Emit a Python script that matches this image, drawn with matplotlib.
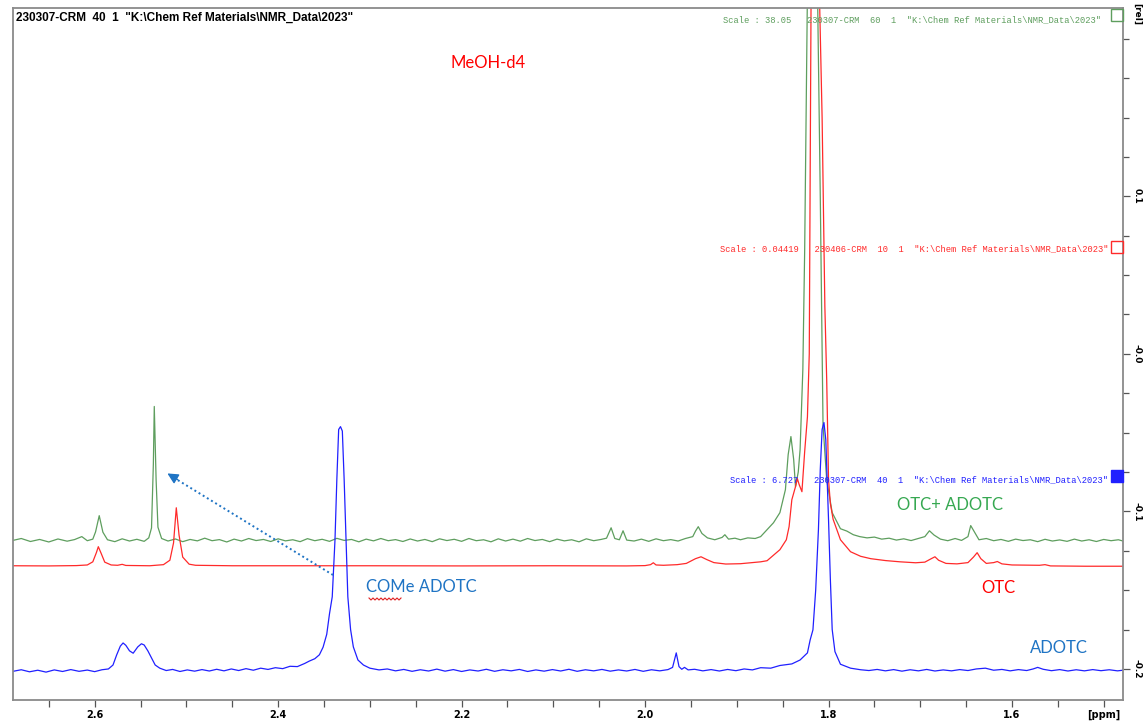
import numpy as np
import matplotlib.pyplot as plt

W, H = 1143, 724

# ---- spectra (ppm, relative intensity) ----
green_ppm = [2.689, 2.680, 2.670, 2.660, 2.650, 2.640, 2.630, 2.622, 2.614, 2.608,
             2.602, 2.599, 2.595, 2.591, 2.586, 2.578, 2.570, 2.562, 2.554, 2.546,
             2.541, 2.538, 2.536, 2.535, 2.533, 2.531, 2.527, 2.520, 2.512, 2.504,
             2.496, 2.488, 2.480, 2.472, 2.464, 2.456, 2.448, 2.440, 2.432, 2.424,
             2.416, 2.408, 2.400, 2.392, 2.384, 2.376, 2.368, 2.360, 2.352, 2.344,
             2.336, 2.328, 2.320, 2.312, 2.304, 2.296, 2.288, 2.280, 2.272, 2.264,
             2.256, 2.248, 2.240, 2.232, 2.224, 2.216, 2.208, 2.200, 2.192, 2.184,
             2.176, 2.168, 2.160, 2.152, 2.144, 2.136, 2.128, 2.120, 2.112, 2.104,
             2.096, 2.088, 2.080, 2.072, 2.064, 2.056, 2.048, 2.042, 2.037, 2.033,
             2.028, 2.024, 2.020, 2.012, 2.004, 1.996, 1.988, 1.980, 1.972, 1.964,
             1.956, 1.948, 1.945, 1.942, 1.938, 1.932, 1.924, 1.916, 1.913, 1.909,
             1.902, 1.896, 1.888, 1.880, 1.874, 1.867, 1.860, 1.853, 1.847, 1.844,
             1.841, 1.838, 1.836, 1.833, 1.831, 1.828, 1.826, 1.823, 1.818, 1.812,
             1.809, 1.806, 1.802, 1.796, 1.787, 1.780, 1.773, 1.766, 1.758, 1.750,
             1.742, 1.734, 1.726, 1.718, 1.710, 1.702, 1.695, 1.690, 1.685, 1.678,
             1.670, 1.662, 1.655, 1.648, 1.645, 1.641, 1.636, 1.628, 1.620, 1.612,
             1.604, 1.596, 1.588, 1.580, 1.572, 1.564, 1.556, 1.548, 1.540, 1.532,
             1.524, 1.516, 1.508, 1.500, 1.492, 1.484, 1.479]
green_val = [-0.1184, -0.1172, -0.1191, -0.1178, -0.1194, -0.1175, -0.1189, -0.1179, -0.1160, -0.1186,
             -0.1176, -0.1130, -0.1027, -0.1132, -0.1180, -0.1192, -0.1174, -0.1188, -0.1177, -0.1190,
             -0.1168, -0.1105, -0.0700, -0.0334, -0.0800, -0.1100, -0.1172, -0.1188, -0.1175, -0.1192,
             -0.1178, -0.1187, -0.1170, -0.1186, -0.1179, -0.1194, -0.1176, -0.1188, -0.1172, -0.1185,
             -0.1178, -0.1191, -0.1174, -0.1187, -0.1180, -0.1192, -0.1173, -0.1186, -0.1177, -0.1190,
             -0.1171, -0.1184, -0.1178, -0.1193, -0.1176, -0.1187, -0.1172, -0.1186, -0.1179, -0.1191,
             -0.1175, -0.1188, -0.1178, -0.1192, -0.1174, -0.1185, -0.1177, -0.1190, -0.1172, -0.1186,
             -0.1180, -0.1193, -0.1174, -0.1188, -0.1176, -0.1189, -0.1172, -0.1185, -0.1178, -0.1192,
             -0.1176, -0.1187, -0.1180, -0.1193, -0.1174, -0.1186, -0.1178, -0.1170, -0.1104, -0.1172,
             -0.1180, -0.1123, -0.1182, -0.1188, -0.1176, -0.1190, -0.1174, -0.1186, -0.1179, -0.1188,
             -0.1172, -0.1160, -0.1125, -0.1097, -0.1140, -0.1168, -0.1180, -0.1165, -0.1148, -0.1176,
             -0.1170, -0.1180, -0.1168, -0.1172, -0.1160, -0.1116, -0.1072, -0.1008, -0.0862, -0.0640,
             -0.0525, -0.0670, -0.0843, -0.0750, -0.0608, -0.0100, 0.0660, 0.2300, 0.3000, 0.2300,
             0.1000, -0.0450, -0.0800, -0.1008, -0.1110, -0.1125, -0.1148, -0.1160, -0.1168, -0.1163,
             -0.1176, -0.1170, -0.1182, -0.1174, -0.1185, -0.1172, -0.1160, -0.1123, -0.1150, -0.1176,
             -0.1186, -0.1172, -0.1184, -0.1160, -0.1090, -0.1130, -0.1180, -0.1172, -0.1186, -0.1178,
             -0.1190, -0.1176, -0.1185, -0.1180, -0.1192, -0.1177, -0.1188, -0.1181, -0.1190, -0.1176,
             -0.1188, -0.1180, -0.1191, -0.1178, -0.1186, -0.1180, -0.1188]

red_ppm = [2.689, 2.650, 2.620, 2.608, 2.602, 2.598, 2.596, 2.593, 2.589, 2.582,
           2.575, 2.570, 2.566, 2.540, 2.525, 2.518, 2.514, 2.511, 2.508, 2.504,
           2.497, 2.490, 2.450, 2.300, 2.200, 2.100, 2.020, 2.000, 1.994, 1.991,
           1.988, 1.980, 1.965, 1.955, 1.945, 1.939, 1.933, 1.925, 1.912, 1.896,
           1.874, 1.867, 1.853, 1.846, 1.843, 1.840, 1.836, 1.834, 1.832, 1.829,
           1.826, 1.823, 1.821, 1.819, 1.815, 1.810, 1.807, 1.804, 1.802, 1.800,
           1.798, 1.795, 1.787, 1.776, 1.765, 1.754, 1.738, 1.722, 1.705, 1.695,
           1.688, 1.684, 1.680, 1.672, 1.660, 1.648, 1.642, 1.638, 1.634, 1.628,
           1.620, 1.616, 1.611, 1.600, 1.570, 1.564, 1.558, 1.520, 1.479]
red_val = [-0.1345, -0.1346, -0.1344, -0.1340, -0.1320, -0.1260, -0.1224, -0.1265, -0.1322, -0.1340,
           -0.1342, -0.1336, -0.1343, -0.1345, -0.1338, -0.1310, -0.1200, -0.0977, -0.1150, -0.1290,
           -0.1335, -0.1342, -0.1345, -0.1345, -0.1346, -0.1345, -0.1346, -0.1344, -0.1338, -0.1326,
           -0.1340, -0.1342, -0.1338, -0.1330, -0.1300, -0.1288, -0.1305, -0.1325, -0.1334, -0.1332,
           -0.1320, -0.1313, -0.1243, -0.1180, -0.1097, -0.0926, -0.0843, -0.0792, -0.0830, -0.0875,
           -0.0620, -0.0400, 0.0000, 0.2300, 0.3000, 0.2300, 0.1500, 0.0300, -0.0163, -0.0798,
           -0.0950, -0.1050, -0.1180, -0.1256, -0.1285, -0.1300, -0.1312, -0.1320, -0.1326, -0.1322,
           -0.1300, -0.1288, -0.1310, -0.1330, -0.1333, -0.1325, -0.1290, -0.1262, -0.1300, -0.1330,
           -0.1325, -0.1318, -0.1333, -0.1340, -0.1342, -0.1338, -0.1346, -0.1348, -0.1348]

blue_ppm = [2.689, 2.680, 2.671, 2.662, 2.653, 2.644, 2.635, 2.626, 2.617, 2.608,
            2.600, 2.592, 2.585, 2.580, 2.576, 2.572, 2.569, 2.566, 2.562, 2.558,
            2.553, 2.549, 2.546, 2.542, 2.538, 2.534, 2.529, 2.522, 2.515, 2.507,
            2.499, 2.491, 2.483, 2.475, 2.467, 2.459, 2.451, 2.443, 2.435, 2.427,
            2.419, 2.411, 2.403, 2.395, 2.387, 2.379, 2.371, 2.366, 2.360, 2.355,
            2.351, 2.347, 2.344, 2.341, 2.338, 2.336, 2.334, 2.332, 2.330, 2.328,
            2.326, 2.324, 2.321, 2.318, 2.313, 2.307, 2.300, 2.290, 2.281, 2.272,
            2.263, 2.254, 2.245, 2.236, 2.227, 2.218, 2.209, 2.200, 2.191, 2.182,
            2.173, 2.164, 2.155, 2.146, 2.137, 2.128, 2.119, 2.110, 2.101, 2.092,
            2.083, 2.074, 2.065, 2.056, 2.047, 2.038, 2.029, 2.020, 2.011, 2.002,
            1.993, 1.984, 1.975, 1.970, 1.966, 1.963, 1.960, 1.957, 1.953, 1.946,
            1.937, 1.928, 1.919, 1.910, 1.901, 1.892, 1.883, 1.874, 1.863, 1.853,
            1.840, 1.831, 1.823, 1.820, 1.817, 1.814, 1.811, 1.809, 1.807, 1.805,
            1.803, 1.800, 1.798, 1.796, 1.793, 1.787, 1.776, 1.765, 1.756, 1.747,
            1.738, 1.729, 1.720, 1.711, 1.702, 1.693, 1.684, 1.675, 1.666, 1.657,
            1.648, 1.639, 1.629, 1.620, 1.611, 1.602, 1.593, 1.584, 1.577, 1.572,
            1.566, 1.557, 1.548, 1.539, 1.530, 1.521, 1.512, 1.503, 1.494, 1.485, 1.479]
blue_val = [-0.2015, -0.2005, -0.2018, -0.2008, -0.2020, -0.2006, -0.2016, -0.2004, -0.2015, -0.2007,
            -0.2017, -0.2005, -0.2000, -0.1975, -0.1911, -0.1855, -0.1835, -0.1850, -0.1885, -0.1900,
            -0.1860, -0.1840, -0.1848, -0.1885, -0.1930, -0.1975, -0.1995, -0.2010, -0.2003, -0.2016,
            -0.2006, -0.2014, -0.2004, -0.2013, -0.2002, -0.2012, -0.2000, -0.2010, -0.1998, -0.2008,
            -0.1995, -0.2003, -0.1992, -0.1998, -0.1983, -0.1985, -0.1965, -0.1950, -0.1935, -0.1910,
            -0.1862, -0.1780, -0.1650, -0.1542, -0.1180, -0.0800, -0.0480, -0.0462, -0.0490, -0.0800,
            -0.1180, -0.1542, -0.1750, -0.1860, -0.1943, -0.1975, -0.1995, -0.2006, -0.2000, -0.2012,
            -0.2003, -0.2015, -0.2005, -0.2013, -0.2001, -0.2014, -0.2004, -0.2016, -0.2006, -0.2013,
            -0.2002, -0.2015, -0.2005, -0.2012, -0.2003, -0.2016, -0.2006, -0.2014, -0.2004, -0.2013,
            -0.2002, -0.2015, -0.2005, -0.2012, -0.2003, -0.2014, -0.2006, -0.2013, -0.2003, -0.2015,
            -0.2005, -0.2012, -0.2004, -0.1990, -0.1898, -0.1985, -0.2002, -0.1990, -0.2006, -0.2002,
            -0.2012, -0.2004, -0.2013, -0.2003, -0.2011, -0.2000, -0.2006, -0.1992, -0.1995, -0.1978,
            -0.1968, -0.1943, -0.1898, -0.1815, -0.1752, -0.1500, -0.1115, -0.0734, -0.0480, -0.0436,
            -0.0544, -0.1052, -0.1432, -0.1750, -0.1890, -0.1970, -0.1995, -0.2005, -0.2010, -0.2003,
            -0.2012, -0.2004, -0.2014, -0.2005, -0.2012, -0.2003, -0.2013, -0.2006, -0.2012, -0.2004,
            -0.2010, -0.2000, -0.1995, -0.2008, -0.2003, -0.2012, -0.2004, -0.2010, -0.2000, -0.1990,
            -0.2002, -0.2011, -0.2004, -0.2013, -0.2005, -0.2012, -0.2004, -0.2011, -0.2005, -0.2012, -0.2008]

# axis ticks / labels
y_ticks = [0.1, 0.0, -0.1, -0.2]
y_labels = ['0.1', '-0.0', '-0.1', '-0.2']
x_ticks = [2.6, 2.4, 2.2, 2.0, 1.8, 1.6, 1.5]
x_labels = ['2.6', '2.4', '2.2', '2.0', '1.8', '1.6', '[ppm]']

GREEN = '#5e9e5e'
RED = '#ff2a2a'
BLUE = '#2020ff'
OFF_BLUE = '#1f74c4'
OFF_GREEN = '#36a851'


def fx(px):
    return px / W


def fy(py):
    return 1 - py / H


fig = plt.figure(figsize=(W / 100, H / 100), dpi=100)
ax = fig.add_axes([fx(13), fy(700), fx(1110), 692 / H])

ax.plot(green_ppm, green_val, color=GREEN, lw=0.9)
ax.plot(red_ppm, red_val, color=RED, lw=0.9)
ax.plot(blue_ppm, blue_val, color=BLUE, lw=0.9)

ax.set_xlim(2.689, 1.479)
ax.set_ylim(-0.2197, 0.2195)

for s in ax.spines.values():
    s.set_color('#8a8a8a')
    s.set_linewidth(1.3)

ax.yaxis.tick_right()
ax.set_yticks(y_ticks)
ax.set_yticklabels(y_labels, rotation=-90, va='center', ha='left', fontsize=6.5, fontweight='bold')
ax.set_yticks(np.arange(-0.2, 0.21, 0.025), minor=True)
ax.set_xticks(x_ticks)
ax.set_xticklabels(x_labels, fontsize=7, fontweight='bold')
ax.set_xticks(np.arange(1.5, 2.69, 0.05), minor=True)
ax.tick_params(axis='both', which='both', direction='out', color='#555555', width=0.9)
ax.tick_params(axis='x', which='major', length=5, pad=2)
ax.tick_params(axis='x', which='minor', length=5)
ax.tick_params(axis='y', which='major', length=5, pad=2)
ax.tick_params(axis='y', which='minor', length=4)

fig.text(fx(1137), fy(14), '[rel]', rotation=-90, ha='center', va='center',
         fontsize=6.5, fontweight='bold')

# header
fig.text(fx(16), fy(18), '230307-CRM  40  1  "K:\\Chem Ref Materials\\NMR_Data\\2023"',
         fontsize=8.5, fontweight='bold', va='center', family='Liberation Sans')

# scale lines per trace
mono = 'Liberation Mono'
fig.text(fx(1101), fy(20), 'Scale : 38.05   230307-CRM  60  1  "K:\\Chem Ref Materials\\NMR_Data\\2023"',
         fontsize=6.3, color=GREEN, ha='right', va='center', family=mono)
fig.text(fx(1108), fy(249), 'Scale : 0.04419   230406-CRM  10  1  "K:\\Chem Ref Materials\\NMR_Data\\2023"',
         fontsize=6.3, color=RED, ha='right', va='center', family=mono)
fig.text(fx(1108), fy(480), 'Scale : 6.727   230307-CRM  40  1  "K:\\Chem Ref Materials\\NMR_Data\\2023"',
         fontsize=6.3, color=BLUE, ha='right', va='center', family=mono)

for top, col, filled in [(9, GREEN, False), (241, RED, False), (470, BLUE, True)]:
    fig.patches.append(plt.Rectangle((fx(1111), fy(top + 12)), fx(12), 12 / H,
                                     transform=fig.transFigure, fill=filled,
                                     facecolor=col, edgecolor=col, lw=1.0))

# annotations
office = 'Lato'
fig.text(fx(488), fy(63), 'MeOH-d4', color='#ff0000', fontsize=12, ha='center', va='center', family=office)
fig.text(fx(421), fy(587), 'COMe ADOTC', color=OFF_BLUE, fontsize=12, ha='center', va='center', family=office)
fig.text(fx(950), fy(505), 'OTC+ ADOTC', color=OFF_GREEN, fontsize=12, ha='center', va='center', family=office)
fig.text(fx(998), fy(588), 'OTC', color='#ff0000', fontsize=12, ha='center', va='center', family=office)
fig.text(fx(1059), fy(648), 'ADOTC', color=OFF_BLUE, fontsize=12, ha='center', va='center', family=office)

# red wavy spell-check underline under "COMe"
wx = np.arange(369, 403, 2.0)
wy = np.where(np.arange(len(wx)) % 2 == 0, 598, 600)
fig.lines.append(plt.Line2D(fx(wx), fy(wy), color='#e02020', lw=0.8, transform=fig.transFigure))

# dotted arrow
fig.lines.append(plt.Line2D([fx(333), fx(176)], [fy(575), fy(479)], color=OFF_BLUE, lw=1.4,
                            ls=(0, (1, 1.5)), transform=fig.transFigure))
ax.annotate('', xy=(165, H - 472), xycoords='figure pixels',
            xytext=(180, H - 481), textcoords='figure pixels',
            arrowprops=dict(arrowstyle='-|>', color=OFF_BLUE, lw=1.0, mutation_scale=16))

fig.savefig('out.png', dpi=100)
